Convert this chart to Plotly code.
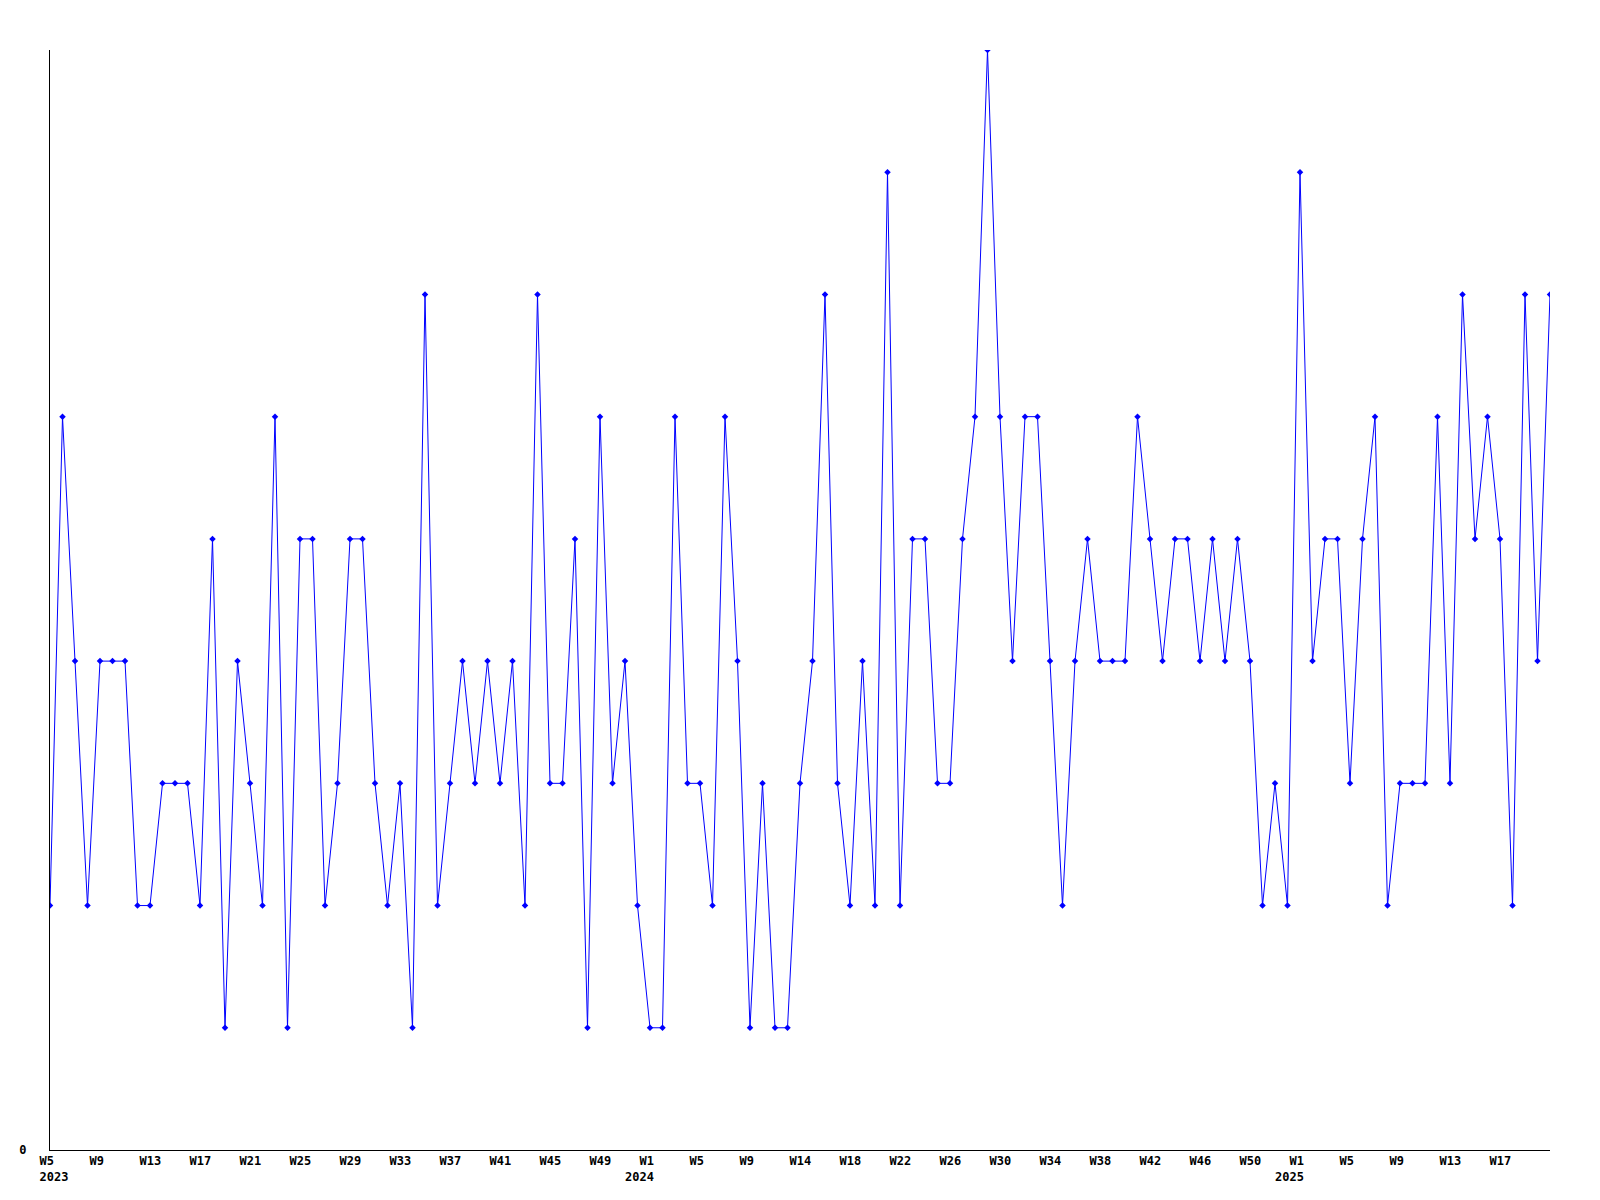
import plotly.graph_objects as go

# Weekly counts, starting at ISO week 5 of 2023 (one value per week)
counts = [
    2, 6, 4, 2, 4, 4, 4, 2, 2, 3, 3, 3, 2, 5, 1, 4, 3, 2, 6, 1,
    5, 5, 2, 3, 5, 5, 3, 2, 3, 1, 7, 2, 3, 4, 3, 4, 3, 4, 2, 7,
    3, 3, 5, 1, 6, 3, 4, 2, 1, 1, 6, 3, 3, 2, 6, 4, 1, 3, 1, 1,
    3, 4, 7, 3, 2, 4, 2, 8, 2, 5, 5, 3, 3, 5, 6, 9, 6, 4, 6, 6,
    4, 2, 4, 5, 4, 4, 4, 6, 5, 4, 5, 5, 4, 5, 4, 5, 4, 2, 3, 2,
    8, 4, 5, 5, 3, 5, 6, 2, 3, 3, 3, 6, 3, 7, 5, 6, 5, 2, 7, 4,
    7,
]

# Tick labels (one every 4 weeks), first line = week, second line = year
tick_weeks = [
    "W5", "W9", "W13", "W17", "W21", "W25", "W29", "W33", "W37", "W41", "W45", "W49",
    "W1", "W5", "W9", "W14", "W18", "W22", "W26", "W30", "W34", "W38", "W42", "W46", "W50",
    "W1", "W5", "W9", "W13", "W17",
]
tick_years = {0: "2023", 12: "2024", 25: "2025"}
tick_step = 4

weeks = list(range(len(counts)))

NB = "\u00a0"
tickvals = [i * tick_step for i in range(len(tick_weeks))]
ticktext = []
for k, w in enumerate(tick_weeks):
    label = w + NB * (4 - len(w))
    if k in tick_years:
        year_pad = 0 if k == 0 else 4
        label += "<br>" + tick_years[k] + NB * year_pad
    ticktext.append(label)

fig = go.Figure()
fig.add_trace(go.Scatter(
    x=weeks,
    y=counts,
    mode="lines+markers",
    line=dict(color="#0000FF", width=1),
    marker=dict(symbol="diamond", size=5, color="#0000FF"),
    showlegend=False,
    hoverinfo="x+y",
))

font_family = "DejaVu Sans Mono"
fig.update_layout(
    width=1592,
    height=1192,
    margin=dict(l=42, r=50, t=42, b=50, pad=0),
    plot_bgcolor="white",
    paper_bgcolor="white",
    font=dict(family=font_family, size=12, color="black"),
)
fig.update_xaxes(
    range=[0, len(counts) - 1],
    tickvals=tickvals,
    ticktext=ticktext,
    tickfont=dict(family=font_family, size=12, color="black", weight="bold"),
    showline=True,
    linecolor="black",
    linewidth=1,
    showgrid=False,
    zeroline=False,
    ticks="",
    ticklabelshift=4,
    tickangle=0,
    automargin=False,
)
fig.update_yaxes(
    range=[0, 9],
    tickvals=[0],
    ticktext=["0"],
    tickfont=dict(family=font_family, size=12, color="black", weight="bold"),
    showline=True,
    linecolor="black",
    linewidth=1,
    showgrid=False,
    zeroline=False,
    ticks="",
    ticklabelstandoff=20,
    automargin=False,
)

fig.write_html("out.html")
